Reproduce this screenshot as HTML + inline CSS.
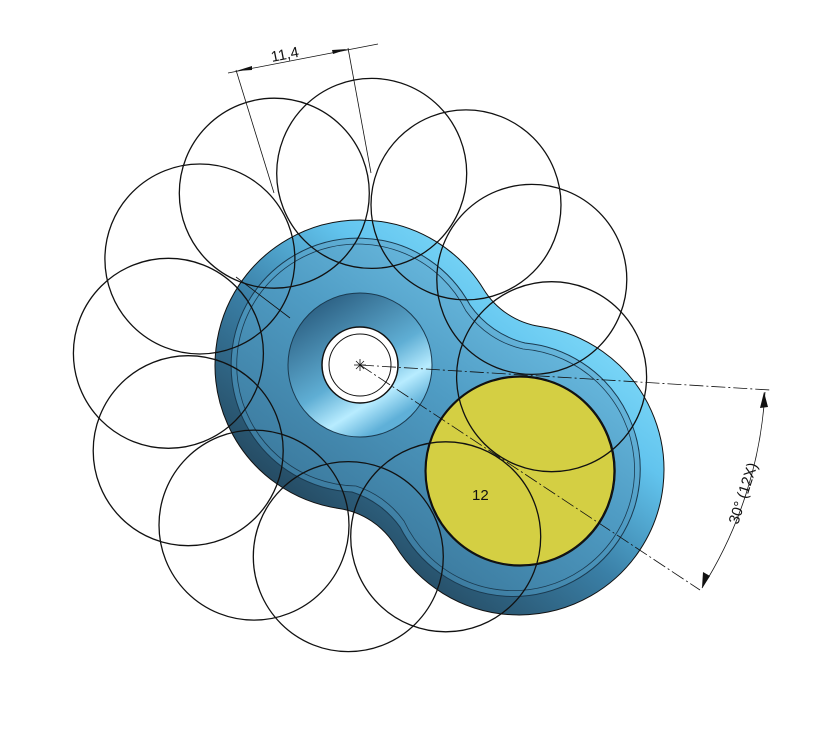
<!DOCTYPE html>
<html><head><meta charset="utf-8"><style>html,body{margin:0;padding:0;background:#fff;}svg{display:block}</style></head>
<body>
<svg width="822" height="741" viewBox="0 0 822 741" xmlns="http://www.w3.org/2000/svg">
<defs>
<linearGradient id="g1" x1="0.85" y1="0.1" x2="0.15" y2="0.9">
<stop offset="0" stop-color="#8fe6ff"/><stop offset="0.3" stop-color="#62c4ee"/><stop offset="0.55" stop-color="#3a7fa6"/><stop offset="1" stop-color="#1a3040"/>
</linearGradient>
<linearGradient id="g2" x1="0.9" y1="0" x2="0.1" y2="1">
<stop offset="0" stop-color="#7fd2f5"/><stop offset="0.45" stop-color="#4f9cc4"/><stop offset="1" stop-color="#2f6485"/>
</linearGradient>
<linearGradient id="g3" x1="0.2" y1="0.1" x2="0.7" y2="0.9">
<stop offset="0" stop-color="#2f6487"/><stop offset="0.55" stop-color="#5faed4"/><stop offset="0.8" stop-color="#b8ecff"/><stop offset="1" stop-color="#5fb0d8"/>
</linearGradient>
</defs>
<path d="M483.6,289.2 A80,80 0 0 0 540.2,326.5 A145,145 0 1 1 395.4,545.8 A80,80 0 0 0 338.9,508.5 A145,145 0 1 1 483.6,289.2 Z" fill="url(#g1)" stroke="#111" stroke-width="1"/>
<path d="M470,305 A95,95 0 0 0 525,343 A127,127 0 1 1 400,527 A95,95 0 0 0 352,492 A127,127 0 1 1 470,305 Z" fill="url(#g2)" stroke="#1a3a50" stroke-width="1"/>
<path d="M466,311 A95,95 0 0 0 523,349 A121,121 0 1 1 404,521 A95,95 0 0 0 356,486 A121,121 0 1 1 466,311 Z" fill="none" stroke="#1a3a50" stroke-width="0.8"/>
<circle cx="360" cy="365" r="72" fill="url(#g3)" stroke="#1a3a50"/>
<circle cx="360" cy="365" r="38" fill="#fff" stroke="#111" stroke-width="1.5"/>
<circle cx="360" cy="365" r="31" fill="#fff" stroke="#111" stroke-width="1"/>
<circle cx="520" cy="471" r="94" fill="#d4cf43" stroke="#111" stroke-width="1.2"/>
<g fill="none" stroke="#111" stroke-width="1.3">
<circle cx="551.6" cy="376.7" r="95"/>
<circle cx="520.1" cy="471.0" r="95"/>
<circle cx="445.7" cy="536.8" r="95"/>
<circle cx="348.3" cy="556.6" r="95"/>
<circle cx="254.0" cy="525.1" r="95"/>
<circle cx="188.2" cy="450.7" r="95"/>
<circle cx="168.4" cy="353.3" r="95"/>
<circle cx="199.9" cy="259.0" r="95"/>
<circle cx="274.3" cy="193.2" r="95"/>
<circle cx="371.7" cy="173.4" r="95"/>
<circle cx="466.0" cy="204.9" r="95"/>
<circle cx="531.8" cy="279.4" r="95"/>
</g>
<g stroke="#111" stroke-width="0.8" fill="none">
<line x1="360" y1="365" x2="770" y2="390" stroke-dasharray="14,3,2,3"/>
<line x1="360" y1="365" x2="700" y2="590" stroke-dasharray="14,3,2,3"/>
<line x1="354" y1="365" x2="366" y2="365"/><line x1="360" y1="359" x2="360" y2="371"/>
<line x1="356" y1="361" x2="364" y2="369"/><line x1="364" y1="361" x2="356" y2="369"/>
<path d="M765,392 A410,410 0 0 1 702,588"/>
<line x1="228" y1="73" x2="378" y2="44"/>
<line x1="236" y1="70" x2="274" y2="193"/>
<line x1="348" y1="48" x2="371" y2="173"/>
<line x1="236" y1="277" x2="290" y2="318"/>
</g>
<g fill="#111">
<polygon points="764,392 760,408 768,407"/>
<polygon points="702,588 703,572 710,576"/>
<polygon points="236,71 252,66 252,70"/>
<polygon points="348,49 332,50 333,54"/>
</g>
<text x="0" y="0" font-family="Liberation Sans, sans-serif" font-size="15" fill="#111" transform="translate(272,62) rotate(-11)">11,4</text>
<text x="0" y="0" font-family="Liberation Sans, sans-serif" font-size="15" fill="#111" transform="translate(738,525) rotate(-72)">30° (12X)</text>
<text x="472" y="500" font-family="Liberation Sans, sans-serif" font-size="15" fill="#111">12</text>
</svg>
</body></html>
